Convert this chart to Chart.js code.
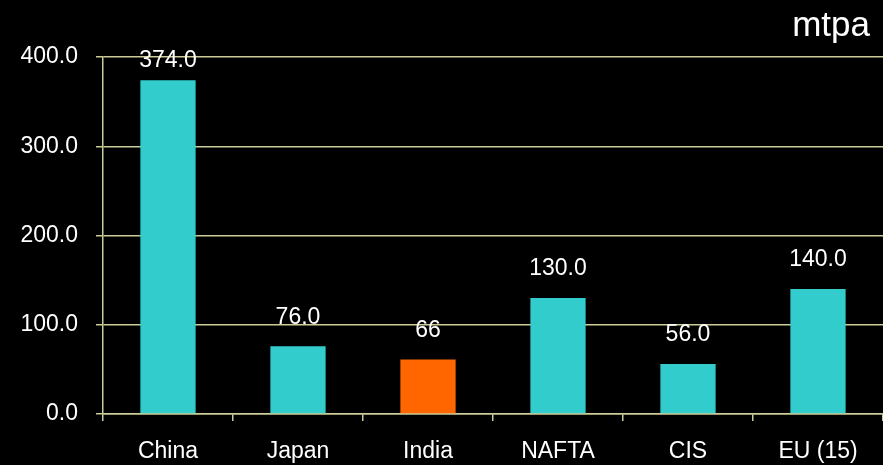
<!DOCTYPE html>
<html>
<head>
<meta charset="utf-8">
<script src="https://cdn.jsdelivr.net/npm/chart.js@4"></script>
<style>
  html, body { margin: 0; padding: 0; background: #000; }
  #wrap { width: 883px; height: 465px; }
</style>
</head>
<body>
<div id="wrap"><canvas id="c" width="883" height="465"></canvas></div>
<script>
// ---- data ----
const categories = ["China", "Japan", "India", "NAFTA", "CIS", "EU (15)"];
const values = [374, 76, 61, 130, 56, 140];
const valueLabels = ["374.0", "76.0", "66", "130.0", "56.0", "140.0"];
const barColors = ["#33CCCC", "#33CCCC", "#FF6600", "#33CCCC", "#33CCCC", "#33CCCC"];
const yTicks = [0, 100, 200, 300, 400];
const unitLabel = "mtpa";

const gridColor = "#CCCC99";
const textColor = "#FFFFFF";
Chart.defaults.font.family = "'Liberation Sans', Arial, sans-serif";

const bgPlugin = {
  id: 'bg',
  beforeDraw(chart) {
    const ctx = chart.ctx;
    ctx.save();
    ctx.fillStyle = '#000';
    ctx.fillRect(0, 0, chart.width, chart.height);
    ctx.restore();
  }
};

const labelPlugin = {
  id: 'valueLabels',
  afterDatasetsDraw(chart) {
    const ctx = chart.ctx;
    const meta = chart.getDatasetMeta(0);
    ctx.save();
    ctx.fillStyle = textColor;
    ctx.font = "23px 'Liberation Sans', Arial, sans-serif";
    ctx.textAlign = 'center';
    ctx.textBaseline = 'middle';
    meta.data.forEach((bar, i) => {
      const y = Math.max(bar.y - 29, chart.chartArea.top + 4);
      ctx.fillText(valueLabels[i], bar.x, y);
    });
    // unit label
    ctx.font = "35px 'Liberation Sans', Arial, sans-serif";
    ctx.textAlign = 'right';
    ctx.textBaseline = 'alphabetic';
    ctx.fillText(unitLabel, 870, 36);
    ctx.restore();
  }
};

new Chart(document.getElementById('c'), {
  type: 'bar',
  data: {
    labels: categories,
    datasets: [{
      data: values,
      backgroundColor: barColors,
      borderWidth: 0,
      categoryPercentage: 1.0,
      barPercentage: 0.425
    }]
  },
  options: {
    responsive: false,
    devicePixelRatio: 1,
    animation: false,
    layout: { padding: { top: 57, right: 0, bottom: 0, left: 0 } },
    plugins: { legend: { display: false }, tooltip: { enabled: false }, title: { display: false } },
    scales: {
      x: {
        offset: true,
        grid: { display: true, drawOnChartArea: false, offset: true, color: gridColor, lineWidth: 1.5, tickLength: 7, tickWidth: 1.5 },
        border: { display: true, color: gridColor, width: 1.5 },
        ticks: { color: textColor, font: { size: 23 }, padding: 17, maxRotation: 0, autoSkip: false },
        afterFit(scale) { scale.height = 51; }
      },
      y: {
        min: 0, max: 400,
        afterBuildTicks(scale) { scale.ticks = yTicks.map(v => ({ value: v })); },
        grid: { color: gridColor, lineWidth: 1.5, tickLength: 7, tickWidth: 1.5 },
        border: { display: true, color: gridColor, width: 1.5 },
        ticks: { color: textColor, font: { size: 23 }, padding: 18, callback: v => Number(v).toFixed(1) },
        afterFit(scale) { scale.width = 103; }
      }
    }
  },
  plugins: [bgPlugin, labelPlugin]
});
</script>
</body>
</html>
